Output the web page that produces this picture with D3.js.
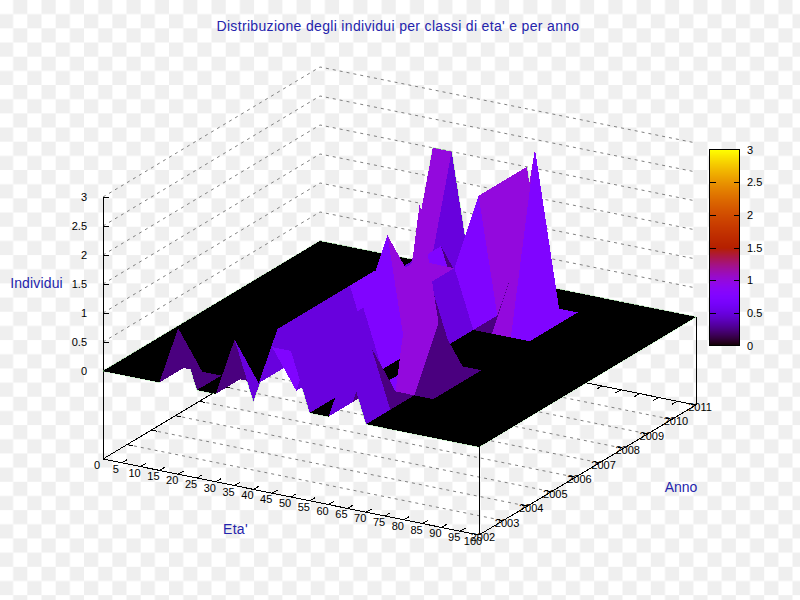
<!DOCTYPE html>
<html><head><meta charset="utf-8">
<style>html,body{margin:0;padding:0;background:#fff}svg{display:block}text{font-family:"Liberation Sans",Arial,sans-serif}</style>
<script src="https://cdnjs.cloudflare.com/ajax/libs/d3/7.8.5/d3.min.js"></script>
</head><body><svg id="c" width="800" height="600"></svg>
<script>
const titleText = "Distribuzione degli individui per classi di eta' e per anno";
const xLabel = "Eta'", yLabel = "Anno", zLabel = "Individui";
const ages = [0,5,10,15,20,25,30,35,40,45,50,55,60,65,70,75,80,85,90,95,100];
const years = [2002,2003,2004,2005,2006,2007,2008,2009,2010,2011];
const zTicks = [0,0.5,1,1.5,2,2.5,3];
const cbTickLabels = ["0","0.5","1","1.5","2","2.5","3"];
const row2002 = [0,0,0,0,1,0,0,1,0,1,1,0,0,1,0,0,0,0,0,0,0];
const row2003 = [0,0,0,0,0,0,0,0,1,0,1,0,0,1,0,0,0,0,0,0,0];
const row2004 = [0,0,0,0,0,0,0,0,1,0,1,0,0,0,0,0,0,0,0,0,0];
const row2005 = [0,0,0,0,0,0,0,0,1,0,1,0,0,3,1,0,0,0,0,0,0];
const row2006 = [0,0,0,0,0,0,0,0,1,0,2,0,0,0,0,0,0,0,0,0,0];
const row2007 = [0,0,0,0,0,0,0,0,1,1,1,1,0,0,0,0,0,0,0,0,0];
const row2008 = [0,0,0,0,0,0,0,0,0,1,1,1,0,0,0,0,0,0,0,0,0];
const row2009 = [0,0,0,0,0,0,0,0,0,1,0,2,0,1,3,0,0,0,0,0,0];
const row2010 = [0,0,0,0,0,0,0,0,0,0,0,2,0,0,0,0,0,0,0,0,0];
const row2011 = [0,0,0,0,0,0,2,2,0,0,0,2,0,0,0,0,0,0,0,0,0];
const rows = [row2002,row2003,row2004,row2005,row2006,row2007,row2008,row2009,row2010,row2011];

const svg = d3.select("#c");

// checker backdrop of the reference image
const cell = 14.17;
const pat = svg.append("defs").append("pattern").attr("id","chk").attr("patternUnits","userSpaceOnUse")
  .attr("x",-1).attr("y",0).attr("width",cell*2).attr("height",cell*2);
pat.append("rect").attr("width",cell*2).attr("height",cell*2).attr("fill","#fff");
pat.append("rect").attr("x",cell).attr("width",cell).attr("height",cell).attr("fill","#efefef");
pat.append("rect").attr("y",cell).attr("width",cell).attr("height",cell).attr("fill","#efefef");
svg.append("rect").attr("width",800).attr("height",600).attr("fill","url(#chk)");

// oblique projection built from linear scales
const xsx = d3.scaleLinear().domain([0,100]).range([0,376]);
const xsy = d3.scaleLinear().domain([0,100]).range([0,76]);
const ysx = d3.scaleLinear().domain([2002,2011]).range([0,217]);
const ysy = d3.scaleLinear().domain([2002,2011]).range([0,-130]);
const zs  = d3.scaleLinear().domain([0,3]).range([371,197]);
const baseZ = zs(0)+88;
const P = (x,y,z)=>[103+xsx(x)+ysx(y), zs(z)+xsy(x)+ysy(y)];
const B = (x,y)=>[103+xsx(x)+ysx(y), baseZ+xsy(x)+ysy(y)];

const pal = g=>{g=Math.max(0,Math.min(1,g));
  const r=Math.sqrt(g),gg=g*g*g,b=Math.max(0,Math.sin(2*Math.PI*g));
  return d3.rgb(r*255,gg*255,b*255).formatHex();};
const colorOf = d3.scaleLinear().domain([0,3]).range([0,1]);

const line = d3.line();
const grid = svg.append("g").attr("fill","none").attr("stroke","#808080").attr("stroke-width",1).attr("stroke-dasharray","3,4");
zTicks.forEach(z=>{
  grid.append("path").attr("d",line([P(0,2002,z),P(0,2011,z),P(100,2011,z)]));
});
years.slice(1,-1).forEach(y=>{
  grid.append("path").attr("d",line([B(0,y),B(100,y)]));
});

const axis = svg.append("g").attr("fill","none").attr("stroke","#000").attr("stroke-width",1).attr("shape-rendering","crispEdges");
axis.append("path").attr("d",line([B(0,2011),B(0,2002),B(100,2002),B(100,2011),B(0,2011)]));
axis.append("path").attr("d",line([P(0,2002,3),B(0,2002)]));
axis.append("path").attr("d",line([P(100,2002,0),B(100,2002)]));
axis.append("path").attr("d",line([P(100,2011,0),B(100,2011)]));
zTicks.forEach(z=>{const a=P(0,2002,z);axis.append("path").attr("d",line([a,[a[0]+6,a[1]]]));});
ages.forEach(x=>{
  axis.append("path").attr("d",line([B(x,2002),B(x,2002.22)]));
  axis.append("path").attr("d",line([B(x,2011),B(x,2010.78)]));
});
years.forEach(y=>{
  axis.append("path").attr("d",line([B(0,y),B(1.6,y)]));
  axis.append("path").attr("d",line([B(100,y),B(98.4,y)]));
});

const labels = svg.append("g").attr("fill","#000").attr("font-size",11);
zTicks.forEach((z,i)=>{const a=P(0,2002,z);
  labels.append("text").attr("x",a[0]-16).attr("y",a[1]+4).attr("text-anchor","end").text(cbTickLabels[i]);});
ages.forEach(x=>{const a=B(x,2002);
  labels.append("text").attr("x",a[0]-6).attr("y",a[1]+10).attr("text-anchor","middle").text(x);});
years.forEach(y=>{const a=B(100,y);
  labels.append("text").attr("x",a[0]+4).attr("y",a[1]+6).attr("text-anchor","middle").text(y);});

// green outline beneath the surface
const outline=[];
ages.forEach((x,i)=>outline.push(P(x,2002,rows[0][i])));
years.forEach((y,j)=>outline.push(P(100,y,rows[j][20])));
ages.slice().reverse().forEach((x,i)=>outline.push(P(x,2011,rows[9][20-i])));
years.slice().reverse().forEach((y,j)=>outline.push(P(0,y,rows[9-j][0])));
svg.append("path").attr("d",line(outline)+"Z").attr("fill","none").attr("stroke","#7fe07f").attr("stroke-width",0.8).attr("stroke-opacity",0.7);

// surface: back row first, left to right
const surf = svg.append("g").attr("shape-rendering","crispEdges");
for(let j=years.length-2;j>=0;j--){
  for(let i=0;i<ages.length-1;i++){
    const q=[[i,j],[i+1,j],[i+1,j+1],[i,j+1]];
    const pts=q.map(([a,b])=>P(ages[a],years[b],rows[b][a]));
    const avg=d3.mean(q,([a,b])=>rows[b][a]);
    surf.append("path").attr("d",line(pts)+"Z").attr("fill",pal(colorOf(avg)));
  }
}

// colour box
const cbY = d3.scaleLinear().domain([0,3]).range([345.5,149.5]);
const cb = svg.append("g").attr("shape-rendering","crispEdges");
d3.range(0,196).forEach(k=>{
  const v0=3*k/196,v1=3*(k+1)/196;
  cb.append("rect").attr("x",709.5).attr("width",30).attr("y",cbY(v1)).attr("height",cbY(v0)-cbY(v1)+0.5).attr("fill",pal(colorOf((v0+v1)/2)));
});
cb.append("rect").attr("x",709.5).attr("y",149.5).attr("width",30).attr("height",196).attr("fill","none").attr("stroke","#000");
zTicks.forEach((z,i)=>{
  const y=Math.round(cbY(z))+0.5;
  if(z>0&&z<3){
    cb.append("path").attr("d",line([[709.5,y],[715.5,y]])).attr("stroke","#000");
    cb.append("path").attr("d",line([[733.5,y],[739.5,y]])).attr("stroke","#000");
  }
  cb.append("text").attr("x",747).attr("y",cbY(z)+4).attr("font-size",11).attr("fill","#000").attr("shape-rendering","auto").text(cbTickLabels[i]);
});

const blue="#2424ac";
const T=svg.append("g").attr("fill",blue).attr("font-size",14);
T.append("text").attr("x",398).attr("y",31).attr("text-anchor","middle").attr("letter-spacing",0.33).text(titleText);
T.append("text").attr("x",36.5).attr("y",288).attr("text-anchor","middle").attr("letter-spacing",0.15).text(zLabel);
T.append("text").attr("x",235.5).attr("y",534).attr("text-anchor","middle").attr("letter-spacing",0.3).text(xLabel);
T.append("text").attr("x",681).attr("y",492).attr("text-anchor","middle").text(yLabel);
</script></body></html>
